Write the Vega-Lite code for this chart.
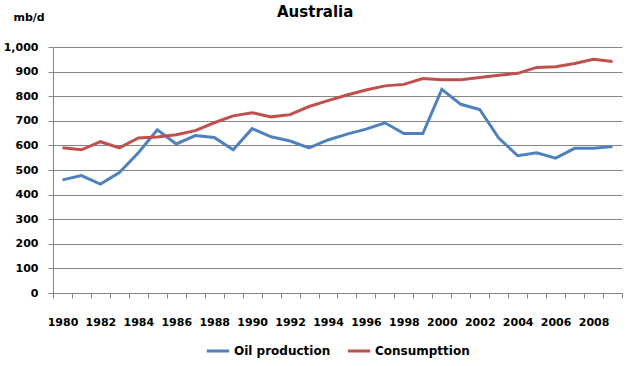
{
  "$schema": "https://vega.github.io/schema/vega-lite/v6.json",
  "autosize": "none",
  "width": 569,
  "height": 246,
  "padding": {"left": 53, "top": 47, "right": 6, "bottom": 73},
  "background": "white",
  "title": {"text": "Australia", "font": "DejaVu Sans", "fontSize": 15, "fontWeight": "bold", "color": "#000000", "anchor": "start", "frame": "group", "dx": 224, "offset": -24, "baseline": "bottom"},
  "config": {"view": {"stroke": null}, "font": "DejaVu Sans"},
  "data": {"values": [
    {"year": 1980, "series": "Oil production", "value": 460},
    {"year": 1981, "series": "Oil production", "value": 477},
    {"year": 1982, "series": "Oil production", "value": 443},
    {"year": 1983, "series": "Oil production", "value": 490},
    {"year": 1984, "series": "Oil production", "value": 570},
    {"year": 1985, "series": "Oil production", "value": 663},
    {"year": 1986, "series": "Oil production", "value": 606},
    {"year": 1987, "series": "Oil production", "value": 640},
    {"year": 1988, "series": "Oil production", "value": 632},
    {"year": 1989, "series": "Oil production", "value": 582},
    {"year": 1990, "series": "Oil production", "value": 668},
    {"year": 1991, "series": "Oil production", "value": 635},
    {"year": 1992, "series": "Oil production", "value": 618},
    {"year": 1993, "series": "Oil production", "value": 590},
    {"year": 1994, "series": "Oil production", "value": 622},
    {"year": 1995, "series": "Oil production", "value": 646},
    {"year": 1996, "series": "Oil production", "value": 666},
    {"year": 1997, "series": "Oil production", "value": 692},
    {"year": 1998, "series": "Oil production", "value": 648},
    {"year": 1999, "series": "Oil production", "value": 648},
    {"year": 2000, "series": "Oil production", "value": 828},
    {"year": 2001, "series": "Oil production", "value": 767},
    {"year": 2002, "series": "Oil production", "value": 746},
    {"year": 2003, "series": "Oil production", "value": 630},
    {"year": 2004, "series": "Oil production", "value": 558},
    {"year": 2005, "series": "Oil production", "value": 570},
    {"year": 2006, "series": "Oil production", "value": 548},
    {"year": 2007, "series": "Oil production", "value": 588},
    {"year": 2008, "series": "Oil production", "value": 588},
    {"year": 2009, "series": "Oil production", "value": 595},
    {"year": 1980, "series": "Consumpttion", "value": 590},
    {"year": 1981, "series": "Consumpttion", "value": 582},
    {"year": 1982, "series": "Consumpttion", "value": 615},
    {"year": 1983, "series": "Consumpttion", "value": 590},
    {"year": 1984, "series": "Consumpttion", "value": 630},
    {"year": 1985, "series": "Consumpttion", "value": 634},
    {"year": 1986, "series": "Consumpttion", "value": 643},
    {"year": 1987, "series": "Consumpttion", "value": 660},
    {"year": 1988, "series": "Consumpttion", "value": 692},
    {"year": 1989, "series": "Consumpttion", "value": 720},
    {"year": 1990, "series": "Consumpttion", "value": 733},
    {"year": 1991, "series": "Consumpttion", "value": 716},
    {"year": 1992, "series": "Consumpttion", "value": 725},
    {"year": 1993, "series": "Consumpttion", "value": 758},
    {"year": 1994, "series": "Consumpttion", "value": 782},
    {"year": 1995, "series": "Consumpttion", "value": 805},
    {"year": 1996, "series": "Consumpttion", "value": 825},
    {"year": 1997, "series": "Consumpttion", "value": 842},
    {"year": 1998, "series": "Consumpttion", "value": 848},
    {"year": 1999, "series": "Consumpttion", "value": 872},
    {"year": 2000, "series": "Consumpttion", "value": 867},
    {"year": 2001, "series": "Consumpttion", "value": 867},
    {"year": 2002, "series": "Consumpttion", "value": 876},
    {"year": 2003, "series": "Consumpttion", "value": 885},
    {"year": 2004, "series": "Consumpttion", "value": 893},
    {"year": 2005, "series": "Consumpttion", "value": 917},
    {"year": 2006, "series": "Consumpttion", "value": 920},
    {"year": 2007, "series": "Consumpttion", "value": 933},
    {"year": 2008, "series": "Consumpttion", "value": 950},
    {"year": 2009, "series": "Consumpttion", "value": 941}
  ]},
  "mark": {"type": "line", "strokeWidth": 3, "interpolate": "linear"},
  "encoding": {
    "x": {"field": "year", "type": "ordinal",
          "scale": {"type": "band", "paddingInner": 0, "paddingOuter": 0},
          "axis": {"title": null, "labelAngle": 0, "tickBand": "extent", "grid": false,
                   "domainColor": "#868686", "tickColor": "#868686", "tickSize": 5,
                   "labelExpr": "datum.value % 2 == 0 ? datum.label : ''",
                   "labelFont": "DejaVu Sans", "labelFontSize": 11, "labelFontWeight": "bold", "labelColor": "#000000", "labelPadding": 18}},
    "y": {"field": "value", "type": "quantitative",
          "scale": {"domain": [0, 1000], "nice": false},
          "axis": {"title": "mb/d", "titleAngle": 0, "titleAlign": "left", "titleBaseline": "middle", "titleX": -40, "titleY": -30,
                   "titleFont": "DejaVu Sans", "titleFontSize": 11, "titleFontWeight": "bold", "titleColor": "#000000",
                   "values": [0,100,200,300,400,500,600,700,800,900,1000], "format": ",.0f",
                   "grid": true, "gridColor": "#868686", "gridWidth": 1,
                   "domainColor": "#868686", "tickColor": "#868686", "tickSize": 5,
                   "labelFont": "DejaVu Sans", "labelFontSize": 11, "labelFontWeight": "bold", "labelColor": "#000000", "labelPadding": 10}},
    "color": {"field": "series", "type": "nominal",
              "scale": {"domain": ["Oil production", "Consumpttion"], "range": ["#4F81BD", "#C0504D"]},
              "legend": {"title": null, "orient": "none", "legendX": 152, "legendY": 291, "direction": "horizontal",
                         "symbolType": "stroke", "symbolStrokeWidth": 3, "symbolSize": 500, "columnPadding": 10,
                         "labelFont": "DejaVu Sans", "labelFontSize": 12, "labelFontWeight": "bold", "labelColor": "#000000", "labelOffset": 3}}
  }
}
